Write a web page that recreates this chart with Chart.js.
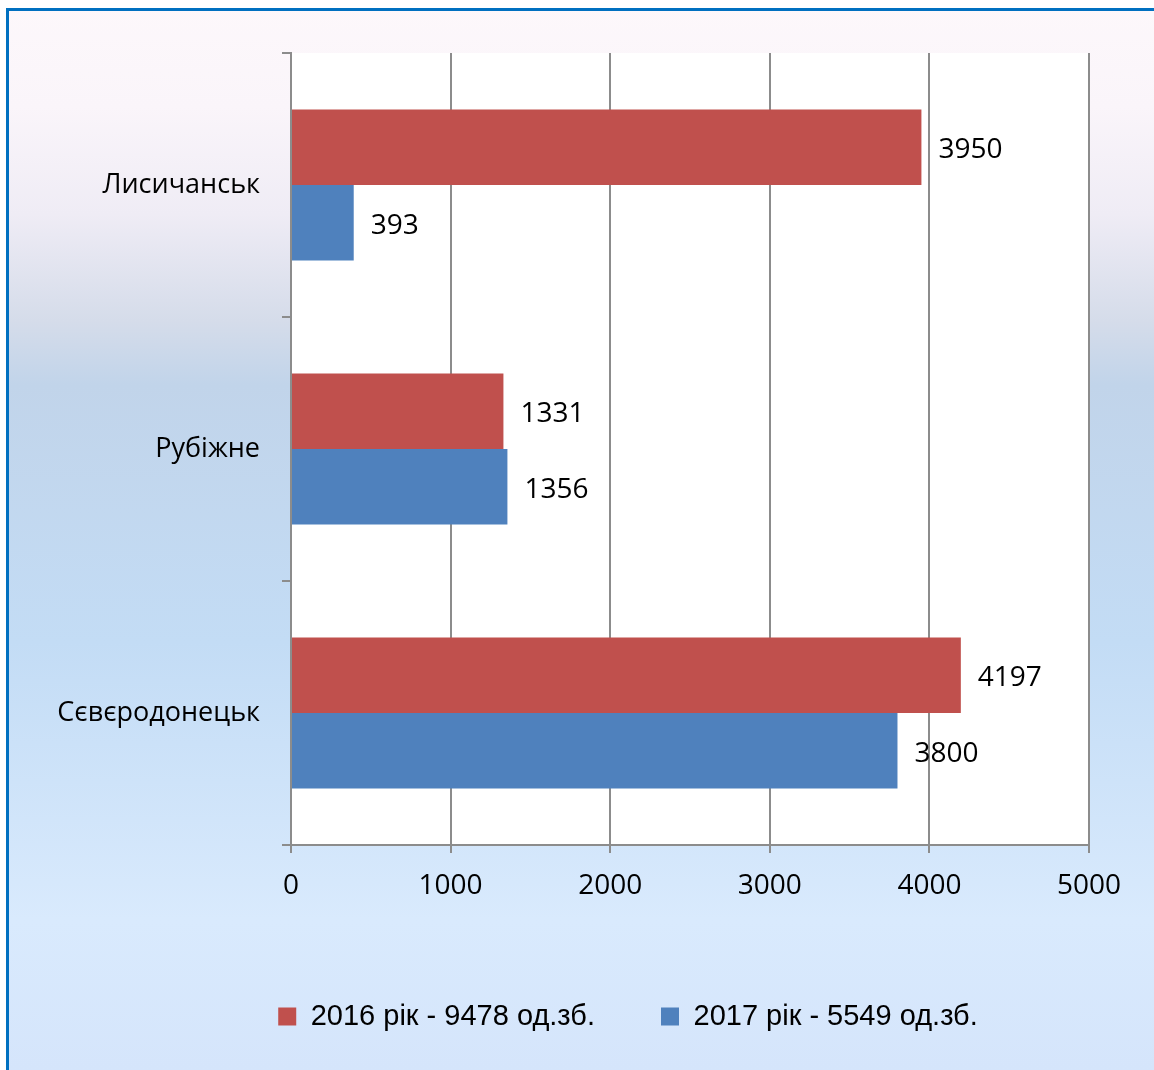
<!DOCTYPE html>
<html>
<head>
<meta charset="utf-8">
<script src="https://cdn.jsdelivr.net/npm/chart.js@4.4.1/dist/chart.umd.min.js"></script>
<style>
  html,body{margin:0;padding:0;background:#fff;}
  #wrap{width:1154px;height:1070px;position:relative;}
</style>
</head>
<body>
<div id="wrap"><canvas id="chart" width="1154" height="1070"></canvas></div>
<script>
// dati
const cities = ['Лисичанськ', 'Рубіжне', 'Сєвєродонецьк'];
const values2016 = [3950, 1331, 4197];
const values2017 = [393, 1356, 3800];
const label2016 = '2016 рік - 9478 од.зб.';
const label2017 = '2017 рік - 5549 од.зб.';
const xTicks = [0, 1000, 2000, 3000, 4000, 5000];

const RED = '#c0504d';
const BLUE = '#4f81bd';
const GRID = '#8c8c8c';
const TXT_FONT = '"Open Sans", "Noto Sans", sans-serif';

// sfondo sfumato, area bianca, bordo blu
const bgPlugin = {
  id:'bg',
  afterLayout(chart){
    // legenda spostata come nell'originale (centro ~628px)
    const l = chart.legend;
    if(l){ l.left = 167; l.right = 1089; }
  },
  beforeDraw(chart){
    const {ctx, width, height, chartArea:a} = chart;
    ctx.save();
    const g = ctx.createLinearGradient(0, 0, 0, height);
    g.addColorStop(0, '#fdf8fb');
    g.addColorStop(0.1, '#faf5fa');
    g.addColorStop(0.2, '#efecf5');
    g.addColorStop(0.3, '#d5dcea');
    g.addColorStop(0.36, '#c1d4ea');
    g.addColorStop(0.6, '#c3dcf5');
    g.addColorStop(0.86, '#d9eafd');
    g.addColorStop(1, '#d5e5fb');
    ctx.fillStyle = '#fff';
    ctx.fillRect(0, 0, width, height);
    ctx.fillStyle = g;
    ctx.fillRect(9, 11, width - 9, height - 11);
    ctx.fillStyle = '#fff';
    ctx.fillRect(a.left, a.top, a.right - a.left, a.bottom - a.top);
    ctx.fillStyle = '#0070c0';
    ctx.fillRect(6, 8, 3, height - 8);
    ctx.fillRect(6, 8, width - 6, 3);
    ctx.restore();
  }
};

// etichette valori a destra delle barre
const valueLabels = {
  id:'valueLabels',
  afterDatasetsDraw(chart){
    const {ctx} = chart;
    ctx.save();
    ctx.font = '28px ' + TXT_FONT;
    ctx.fillStyle = '#000';
    ctx.textAlign = 'left';
    ctx.textBaseline = 'middle';
    chart.data.datasets.forEach((ds, i) => {
      chart.getDatasetMeta(i).data.forEach((bar, j) => {
        ctx.fillText(String(ds.data[j]), bar.x + 17, bar.y + 3);
      });
    });
    ctx.restore();
  }
};

new Chart(document.getElementById('chart'), {
  type:'bar',
  data:{
    labels:cities,
    datasets:[
      {label:label2016, data:values2016, backgroundColor:RED, categoryPercentage:0.572, barPercentage:1},
      {label:label2017, data:values2017, backgroundColor:BLUE, categoryPercentage:0.572, barPercentage:1}
    ]
  },
  options:{
    indexAxis:'y',
    responsive:false,
    animation:false,
    layout:{padding:{left:0, right:65, top:53, bottom:29}},
    plugins:{
      tooltip:{enabled:false},
      legend:{
        position:'bottom',
        labels:{
          boxWidth:18, boxHeight:18, padding:66, color:'#000',
          font:{family:'"Liberation Sans Narrow", "Liberation Sans", sans-serif', size:29}
        }
      }
    },
    scales:{
      x:{
        min:0, max:5000,
        afterBuildTicks(s){ s.ticks = xTicks.map(v => ({value:v})); },
        afterFit(s){ s.height = 91; },
        grid:{color:GRID, lineWidth:2, tickLength:8, tickColor:GRID},
        border:{color:GRID, width:2},
        ticks:{color:'#000', padding:16, font:{family:TXT_FONT, size:28}, maxRotation:0,
          callback:v => String(v)}
      },
      y:{
        afterFit(s){ s.width = 291; },
        grid:{drawOnChartArea:false, offset:true, tickLength:9, color:GRID, lineWidth:2},
        border:{color:GRID, width:2},
        ticks:{color:'#000', padding:22, font:{family:TXT_FONT, size:27}}
      }
    }
  },
  plugins:[bgPlugin, valueLabels]
});
</script>
</body>
</html>
